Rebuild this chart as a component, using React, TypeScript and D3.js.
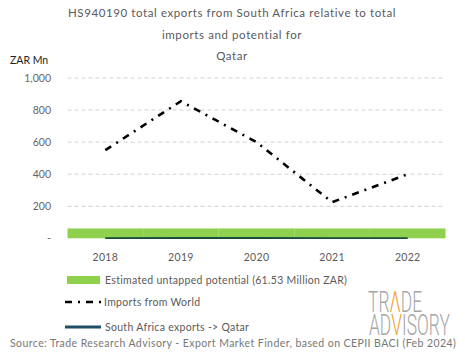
import React from 'react';
import * as d3 from 'd3';

const years = ['2018', '2019', '2020', '2021', '2022'];
const importsWorld = [550, 855, 600, 225, 400];
const saExports = [1, 2, 2, 1, 1];
const untapped = [61.53, 61.53, 61.53, 61.53, 61.53];
const yTicks = [0, 200, 400, 600, 800, 1000];
const titleLines = [
  'HS940190 total exports from South Africa relative to total',
  'imports and potential for',
  'Qatar',
];

const font = 'Lato, "Open Sans", sans-serif';
const gray = '#5a5a5a';

const App = () => {
  const width = 465;
  const height = 359;
  const marginLeft = 67.5;
  const marginRight = 19.5;
  const marginTop = 78;
  const plotBottom = 238.3;

  const x = d3.scaleBand()
    .domain(years)
    .range([marginLeft, width - marginRight])
    .padding(0);

  const y = d3.scaleLinear()
    .domain([0, 1000])
    .range([plotBottom, marginTop]);

  const cx = (d: string) => (x(d) ?? 0) + x.bandwidth() / 2;

  const importsLine = d3.line<number>()
    .x((_, i) => cx(years[i]))
    .y(d => y(d))(importsWorld);

  const exportsLine = d3.line<number>()
    .x((_, i) => cx(years[i]))
    .y(d => y(d))(saExports);

  const fmt = (v: number) => (v === 0 ? '-' : d3.format(',')(v));
  const dash = '7,6,2,6';

  return (
    <svg width={width} height={height} style={{ position: 'absolute', left: 0, top: 0, background: '#fff' }}>
      {titleLines.map((t, i) => (
        <text key={i} x={232} y={17 + i * 21.5} textAnchor="middle" fontFamily={font} fontSize={11.5} fill={gray} letterSpacing={0.6}>
          {t}
        </text>
      ))}
      <text x={10} y={64} fontFamily={font} fontSize={10.5} fill="#222">ZAR Mn</text>

      {yTicks.map(t => (
        <g key={t}>
          {t > 0 && (
            <line x1={marginLeft} x2={width - marginRight} y1={y(t)} y2={y(t)} stroke="#d0d0d0" strokeWidth={1} strokeDasharray="4,3" />
          )}
          <text x={51} y={y(t) + 3.5} textAnchor="end" fontFamily={font} fontSize={10.5} fill="#666">{fmt(t)}</text>
        </g>
      ))}

      {untapped.map((v, i) => (
        <rect key={i} x={x(years[i])} y={y(v)} width={x.bandwidth()} height={y(0) - y(v)} fill="#8fd14f" />
      ))}

      <path d={exportsLine ?? ''} fill="none" stroke="#1b4d3e" strokeWidth={1.8} />
      <path d={importsLine ?? ''} fill="none" stroke="#000" strokeWidth={2.6} strokeDasharray={dash} />

      {years.map(yr => (
        <text key={yr} x={cx(yr)} y={261} textAnchor="middle" fontFamily={font} fontSize={10.5} fill={gray} letterSpacing={0.3}>{yr}</text>
      ))}

      <rect x={67} y={276} width={33} height={8} fill="#8fd14f" />
      <text x={105} y={283.5} fontFamily={font} fontSize={10.5} fill={gray} letterSpacing={0.3}>Estimated untapped potential (61.53 Million ZAR)</text>

      <line x1={65} x2={102} y1={302} y2={302} stroke="#000" strokeWidth={2.6} strokeDasharray={dash} />
      <text x={104} y={306} fontFamily={font} fontSize={10.5} fill={gray} letterSpacing={0.3}>Imports from World</text>

      <line x1={65} x2={101} y1={327} y2={327} stroke="#1f4e66" strokeWidth={3} />
      <text x={105} y={330.5} fontFamily={font} fontSize={10.5} fill={gray} letterSpacing={0.3}>South Africa exports -&gt; Qatar</text>

      <g transform="translate(368,312) scale(0.6,1)">
        <text x={0} y={0} fontFamily="Roboto, sans-serif" fontSize={29} fontWeight={300} fill="#a6a6a6">
          TR<tspan fill="#f0a030">Λ</tspan>DE
        </text>
      </g>
      <g transform="translate(369,335) scale(0.6,1)">
        <text x={0} y={0} fontFamily="Roboto, sans-serif" fontSize={29} fontWeight={300} fill="#a6a6a6">
          AD<tspan fill="#f0a030">V</tspan>ISORY
        </text>
      </g>

      <text x={10} y={347} fontFamily={font} fontSize={10.5} fill="#777" letterSpacing={0.43}>
        Source: Trade Research Advisory - Export Market Finder, based on CEPII BACI (Feb 2024)
      </text>
    </svg>
  );
};

export default App;
